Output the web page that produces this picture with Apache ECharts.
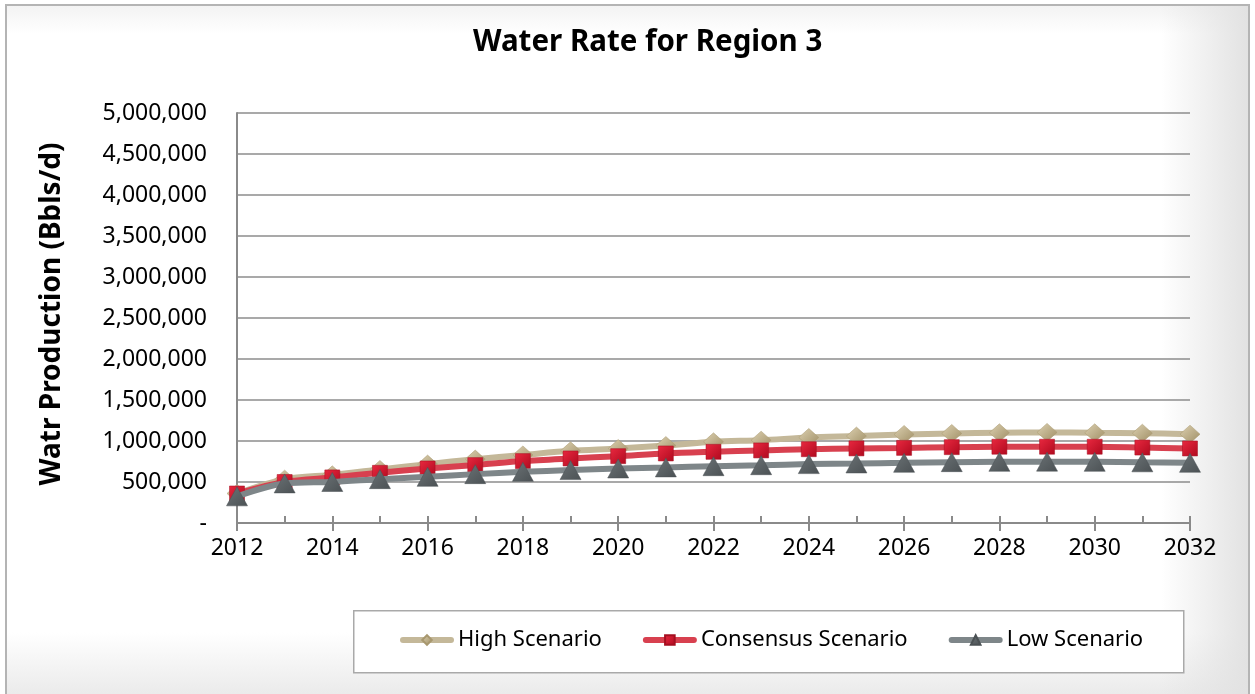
<!DOCTYPE html>
<html>
<head>
<meta charset="utf-8">
<script src="https://cdn.jsdelivr.net/npm/echarts@6/dist/echarts.min.js"></script>
<style>
  html, body { margin: 0; padding: 0; background: #ffffff; }
  #frame {
    position: absolute; left: 5px; top: 4px; width: 1245px; height: 700px;
    border: 2px solid #b4b4b4; box-sizing: border-box;
    background:
      linear-gradient(to right, rgba(230,230,230,0) 0%, rgba(230,230,230,0) 93%, rgba(226,226,226,1) 100%),
      linear-gradient(to bottom, #f3f3f3 0%, #ffffff 4%, #ffffff 90%, #e8e8e8 100%);
  }
  #chart { position: absolute; left: 0; top: 0; width: 1255px; height: 694px; }
</style>
</head>
<body>
<div id="frame"></div>
<div id="chart"></div>
<script>
const years = [2012, 2013, 2014, 2015, 2016, 2017, 2018, 2019, 2020, 2021, 2022,
               2023, 2024, 2025, 2026, 2027, 2028, 2029, 2030, 2031, 2032];
const highScenario = [360000, 535000, 587000, 653000, 718000, 779000, 830000, 880000, 908000, 945000, 990000,
                      1010000, 1043000, 1060000, 1080000, 1092000, 1100000, 1105000, 1100000, 1095000, 1083000];
const consensusScenario = [360000, 500000, 556000, 612000, 665000, 706000, 755000, 787000, 815000, 848000, 868000,
                           885000, 900000, 910000, 916000, 925000, 930000, 930000, 930000, 920000, 909000];
const lowScenario = [325000, 483000, 500000, 535000, 563000, 596000, 624000, 645000, 665000, 678000, 693000,
                     705000, 718000, 726000, 734000, 742000, 746000, 748000, 746000, 740000, 734000];
const seriesNames = ['High Scenario', 'Consensus Scenario', 'Low Scenario'];
const titleText = 'Water Rate for Region 3';
const yAxisTitle = 'Watr Production (Bbls/d)';

const pairs = arr => arr.map((v, i) => [years[i], v]);
const FONT = '"Noto Sans", "DejaVu Sans", sans-serif';

const chart = echarts.init(document.getElementById('chart'));
const grad = (c1, c2) => new echarts.graphic.LinearGradient(0, 0, 1, 1, [
  { offset: 0, color: c1 }, { offset: 1, color: c2 }]);

chart.setOption({
  animation: false,
  backgroundColor: 'transparent',
  title: {
    text: titleText, left: 473, top: 28, padding: 0,
    textStyle: { fontFamily: FONT, fontWeight: 'bold', fontSize: 29.5, color: '#000' }
  },
  graphic: [
    {
      type: 'rect', left: 353, top: 610, z: 0,
      shape: { width: 830, height: 62 },
      style: { fill: '#ffffff', stroke: '#a9a9a9', lineWidth: 1.5 }
    },
    {
      type: 'text', x: 52, y: 314, rotation: Math.PI / 2,
      style: {
        text: yAxisTitle, fontFamily: FONT, fontWeight: 'bold', fontSize: 28,
        fill: '#000', align: 'center', verticalAlign: 'middle'
      }
    }
  ],
  legend: {
    left: 400, top: 629, padding: 0, itemWidth: 48, itemHeight: 12, itemGap: 41,
    lineStyle: { width: 6, cap: 'round' },
    textStyle: { fontFamily: FONT, fontSize: 22, color: '#000', padding: [0, 0, 0, 2] },
    data: seriesNames
  },
  grid: { left: 237, right: 65, top: 113, bottom: 171, containLabel: false },
  xAxis: [
    {
      type: 'value', min: 2012, max: 2032, interval: 2,
      axisLine: { show: true, lineStyle: { color: '#8a8a8a', width: 2 } },
      axisTick: { show: true, inside: false, length: 8, lineStyle: { color: '#8a8a8a', width: 2 } },
      axisLabel: { fontFamily: FONT, fontSize: 23, color: '#000', margin: 14, formatter: v => String(v) },
      splitLine: { show: false }
    },
    {
      type: 'value', min: 2012, max: 2032, interval: 1, position: 'bottom',
      axisLine: { show: false },
      axisTick: { show: true, inside: true, length: 7, lineStyle: { color: '#8a8a8a', width: 2 } },
      axisLabel: { show: false },
      splitLine: { show: false }
    }
  ],
  yAxis: {
    type: 'value', min: 0, max: 5000000, interval: 500000,
    axisLine: { show: true, lineStyle: { color: '#8a8a8a', width: 2 } },
    axisTick: { show: false },
    axisLabel: {
      fontFamily: FONT, fontSize: 23, color: '#000', margin: 30,
      formatter: v => v === 0 ? '-' : v.toLocaleString('en-US')
    },
    splitLine: { show: true, lineStyle: { color: '#8c8c8c', width: 1.5 } }
  },
  series: [
    {
      name: seriesNames[0], type: 'line', smooth: 0.3, data: pairs(highScenario),
      symbol: 'diamond', symbolSize: [20, 18],
      lineStyle: { color: '#c4b899', width: 6 },
      itemStyle: { color: grad('#ddd1b2', '#9e8d63'), borderColor: '#a8986f', borderWidth: 0.5 },
      z: 2
    },
    {
      name: seriesNames[1], type: 'line', smooth: 0.3, data: pairs(consensusScenario),
      symbol: 'rect', symbolSize: 15,
      lineStyle: { color: '#d8404f', width: 6 },
      itemStyle: { color: grad('#e8283f', '#b00a1f'), borderColor: '#a50f20', borderWidth: 0.5 },
      z: 3
    },
    {
      name: seriesNames[2], type: 'line', smooth: 0.3, data: pairs(lowScenario),
      symbol: 'triangle', symbolSize: [21, 19],
      lineStyle: { color: '#7e8689', width: 6 },
      itemStyle: { color: grad('#6c7376', '#4b5154'), borderColor: '#4b5154', borderWidth: 0.5 },
      z: 4
    }
  ]
});
</script>
</body>
</html>
